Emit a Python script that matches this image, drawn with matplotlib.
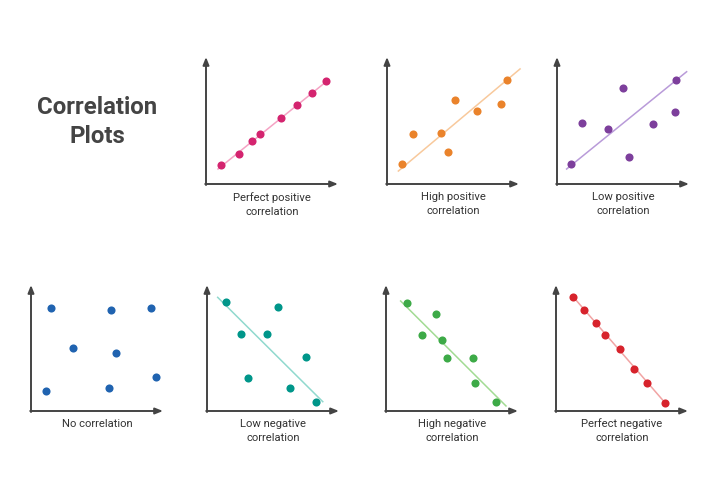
import matplotlib.pyplot as plt

plt.rcParams["font.family"] = ["Roboto", "DejaVu Sans"]

# panel data, 0-10 scale on both axes
perfect_pos_x = [1.14, 2.48, 3.48, 4.09, 5.68, 6.89, 8.03, 9.09]
perfect_pos_y = [1.50, 2.39, 3.39, 3.94, 5.20, 6.22, 7.17, 8.11]
perfect_pos_line = ([0.91, 9.17], [1.18, 8.11])

high_pos_x = [1.16, 1.95, 4.09, 4.62, 5.15, 6.80, 8.61, 9.09]
high_pos_y = [1.55, 3.91, 3.99, 2.50, 6.61, 5.75, 6.30, 8.17]
high_pos_line = ([0.86, 10.08], [1.02, 9.06])

low_pos_x = [1.06, 1.87, 3.84, 4.98, 5.48, 7.25, 8.92, 9.02]
low_pos_y = [1.57, 4.83, 4.33, 7.54, 2.15, 4.72, 5.69, 8.19]
low_pos_line = ([0.73, 9.82], [1.18, 8.84])

no_corr_x = [1.54, 6.08, 9.07, 3.18, 6.44, 9.49, 1.11, 5.89]
no_corr_y = [8.15, 8.02, 8.20, 5.00, 4.63, 2.67, 1.56, 1.85]

low_neg_x = [1.44, 5.36, 2.60, 4.52, 7.48, 3.13, 6.29, 8.23]
low_neg_y = [8.63, 8.23, 6.09, 6.14, 4.31, 2.62, 1.85, 0.71]
low_neg_line = ([0.81, 8.77], [9.02, 0.74])

high_neg_x = [1.57, 3.79, 2.70, 4.22, 4.62, 6.57, 6.77, 8.33]
high_neg_y = [8.60, 7.70, 6.06, 5.66, 4.18, 4.18, 2.20, 0.69]
high_neg_line = ([1.11, 9.09], [8.73, 0.40])

perfect_neg_x = [1.31, 2.10, 3.03, 3.73, 4.83, 5.91, 6.92, 8.28]
perfect_neg_y = [9.05, 8.02, 6.96, 6.01, 4.92, 3.31, 2.25, 0.63]
perfect_neg_line = ([1.31, 8.28], [9.05, 0.63])

W, H = 720, 504
fig = plt.figure(figsize=(7.2, 5.04), dpi=100)

# (label, xs, ys, line, dot color, line color, axes box in px: left, top, right, bottom)
panels = [
    ("Perfect positive\ncorrelation", perfect_pos_x, perfect_pos_y, perfect_pos_line,
     "#D4246F", "#F5A3C4", (206, 57, 338, 184)),
    ("High positive\ncorrelation", high_pos_x, high_pos_y, high_pos_line,
     "#EA832B", "#F8C99C", (387, 57, 519, 184)),
    ("Low positive\ncorrelation", low_pos_x, low_pos_y, low_pos_line,
     "#7D3F9C", "#B99BD9", (557, 57, 689, 184)),
    ("No correlation", no_corr_x, no_corr_y, None,
     "#2063B0", None, (31, 285, 163, 411)),
    ("Low negative\ncorrelation", low_neg_x, low_neg_y, low_neg_line,
     "#00968A", "#90D9CE", (207, 285, 339, 411)),
    ("High negative\ncorrelation", high_neg_x, high_neg_y, high_neg_line,
     "#3DAA47", "#A2DB93", (386, 285, 518, 411)),
    ("Perfect negative\ncorrelation", perfect_neg_x, perfect_neg_y, perfect_neg_line,
     "#D7232C", "#F1A4A4", (556, 285, 688, 411)),
]

axis_color = "#444444"
for label, xs, ys, line, dot_c, line_c, (l, t, r, b) in panels:
    ax = fig.add_axes([l / W, 1 - b / H, (r - l) / W, (b - t) / H])
    ax.set_xlim(0, 10)
    ax.set_ylim(0, 10)
    ax.axis("off")
    if line is not None:
        ax.plot(line[0], line[1], color=line_c, lw=1.1, zorder=1, clip_on=False)
    ax.scatter(xs, ys, s=34, color=dot_c, zorder=2, clip_on=False, linewidths=0)
    arrow = dict(arrowstyle="-|>,head_length=0.45,head_width=0.18",
                 color=axis_color, lw=1.4, shrinkA=0, shrinkB=0)
    ax.annotate("", xy=(0, 10), xytext=(0, -0.08), arrowprops=arrow, annotation_clip=False)
    ax.annotate("", xy=(10, 0), xytext=(-0.06, 0), arrowprops=arrow, annotation_clip=False)
    ax.text(5, -0.6, label, ha="center", va="top", fontsize=8.1,
            color="#333333", linespacing=1.5)

fig.text(97 / W, 1 - 122 / H, "Correlation\nPlots", ha="center", va="center",
         fontsize=17.3, fontweight="bold", color="#444444", linespacing=1.3)

fig.savefig("out.png", dpi=100, facecolor="white")
